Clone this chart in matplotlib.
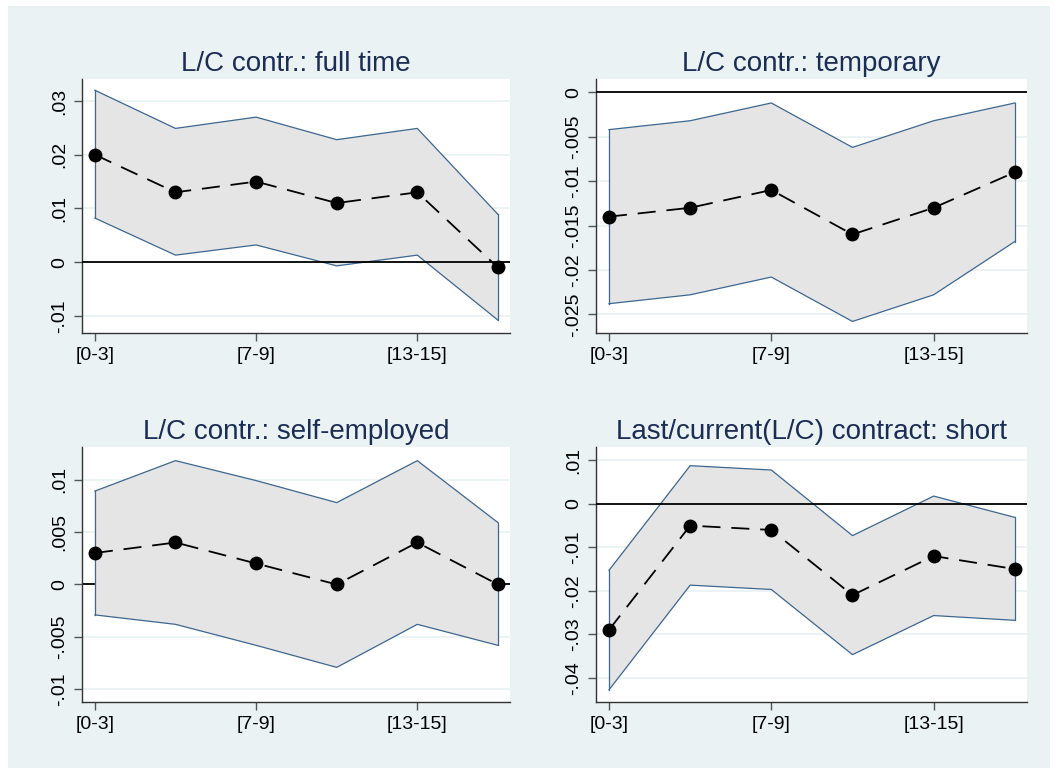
import numpy as np
import matplotlib.pyplot as plt
from matplotlib.patches import Rectangle

plt.rcParams['font.family'] = ['Liberation Sans', 'DejaVu Sans']

# age groups on the x axis (only every second one is labelled)
periods = np.arange(6)
xtick_pos = [0, 2, 4]
xtick_labels = ['[0-3]', '[7-9]', '[13-15]']

titles = ['L/C contr.: full time', 'L/C contr.: temporary',
          'L/C contr.: self-employed', 'Last/current(L/C) contract: short']

# point estimates and confidence bounds
full_coef = [0.020, 0.013, 0.015, 0.011, 0.013, -0.001]
full_hi = [0.0320, 0.0249, 0.0270, 0.0228, 0.0249, 0.0089]
full_lo = [0.0082, 0.0013, 0.0032, -0.0007, 0.0013, -0.0108]

temp_coef = [-0.014, -0.013, -0.011, -0.016, -0.013, -0.009]
temp_hi = [-0.0042, -0.0032, -0.0012, -0.0062, -0.0032, -0.0012]
temp_lo = [-0.0238, -0.0228, -0.0208, -0.0258, -0.0228, -0.0168]

self_coef = [0.003, 0.004, 0.002, 0.000, 0.004, 0.000]
self_hi = [0.0089, 0.0118, 0.0099, 0.0078, 0.0118, 0.0059]
self_lo = [-0.0029, -0.0038, -0.0058, -0.0079, -0.0038, -0.0058]

short_coef = [-0.029, -0.005, -0.006, -0.021, -0.012, -0.015]
short_hi = [-0.0153, 0.0088, 0.0078, -0.0073, 0.0018, -0.0031]
short_lo = [-0.0428, -0.0187, -0.0197, -0.0347, -0.0257, -0.0268]

# y ticks and their labels per panel
full_yticks = [-0.01, 0, 0.01, 0.02, 0.03]
full_ylabels = ['-.01', '0', '.01', '.02', '.03']
temp_yticks = [-0.025, -0.02, -0.015, -0.01, -0.005, 0]
temp_ylabels = ['-.025', '-.02', '-.015', '-.01', '-.005', '0']
self_yticks = [-0.01, -0.005, 0, 0.005, 0.01]
self_ylabels = ['-.01', '-.005', '0', '.005', '.01']
short_yticks = [-0.04, -0.03, -0.02, -0.01, 0, 0.01]
short_ylabels = ['-.04', '-.03', '-.02', '-.01', '0', '.01']

W, H = 1056, 774
fig = plt.figure(figsize=(W / 100, H / 100), dpi=100, facecolor='white')
fig.patches.append(Rectangle((8 / W, 6 / H), 1042 / W, 762 / H,
                             transform=fig.transFigure, facecolor='#eaf2f3',
                             edgecolor='none', zorder=-10))

# (left, top, right, bottom) in pixels
boxes = [(82, 79, 510, 333), (596, 79, 1027, 333),
         (82, 447, 510, 702), (596, 447, 1027, 702)]
ylims = [(-0.0132, 0.0341), (-0.0271, 0.0015), (-0.0112, 0.0131), (-0.0456, 0.0131)]

panels = [
    (full_coef, full_hi, full_lo, full_yticks, full_ylabels, 3),
    (temp_coef, temp_hi, temp_lo, temp_yticks, temp_ylabels, 3),
    (self_coef, self_hi, self_lo, self_yticks, self_ylabels, 0.5),
    (short_coef, short_hi, short_lo, short_yticks, short_ylabels, 3),
]

for (l, t, r, b), title, ylim, (coef, hi, lo, yt, yl, zline) in zip(boxes, titles, ylims, panels):
    ax = fig.add_axes([l / W, 1 - b / H, (r - l) / W, (b - t) / H])
    ax.set_facecolor('white')
    for ytick in yt:
        ax.axhline(ytick, color='#eaf2f3', lw=1.3, zorder=0.2)
    ax.fill_between(periods, lo, hi, facecolor='#e5e5e5', edgecolor='none', zorder=1)
    ax.plot(periods, hi, color='#3d6690', lw=0.9, zorder=2)
    ax.plot(periods, lo, color='#3d6690', lw=0.9, zorder=2)
    ax.plot([periods[0], periods[0]], [lo[0], hi[0]], color='#3d6690', lw=0.9, zorder=2)
    ax.plot([periods[-1], periods[-1]], [lo[-1], hi[-1]], color='#3d6690', lw=0.9, zorder=2)
    ax.axhline(0, color='black', lw=1.3, zorder=zline)
    ax.plot(periods, coef, color='black', ls=(0, (10, 6)), lw=1.3,
            marker='o', ms=9, zorder=4)

    ax.set_xlim(-0.16, 5.15)
    ax.set_ylim(*ylim)
    ax.set_xticks(xtick_pos)
    ax.set_xticklabels(xtick_labels, fontsize=14)
    ax.set_yticks(yt)
    ax.set_yticklabels(yl, fontsize=14, rotation=90, va='center')
    ax.tick_params(axis='both', length=6, width=1, color='#555555', pad=4)

    for side in ['top', 'right']:
        ax.spines[side].set_visible(False)
    for side in ['left', 'bottom']:
        ax.spines[side].set_color('#333333')
        ax.spines[side].set_linewidth(1)

    ax.set_title(title, fontsize=20, color='#1c2d55', pad=6)

fig.savefig('out.png', dpi=100, facecolor='white')
